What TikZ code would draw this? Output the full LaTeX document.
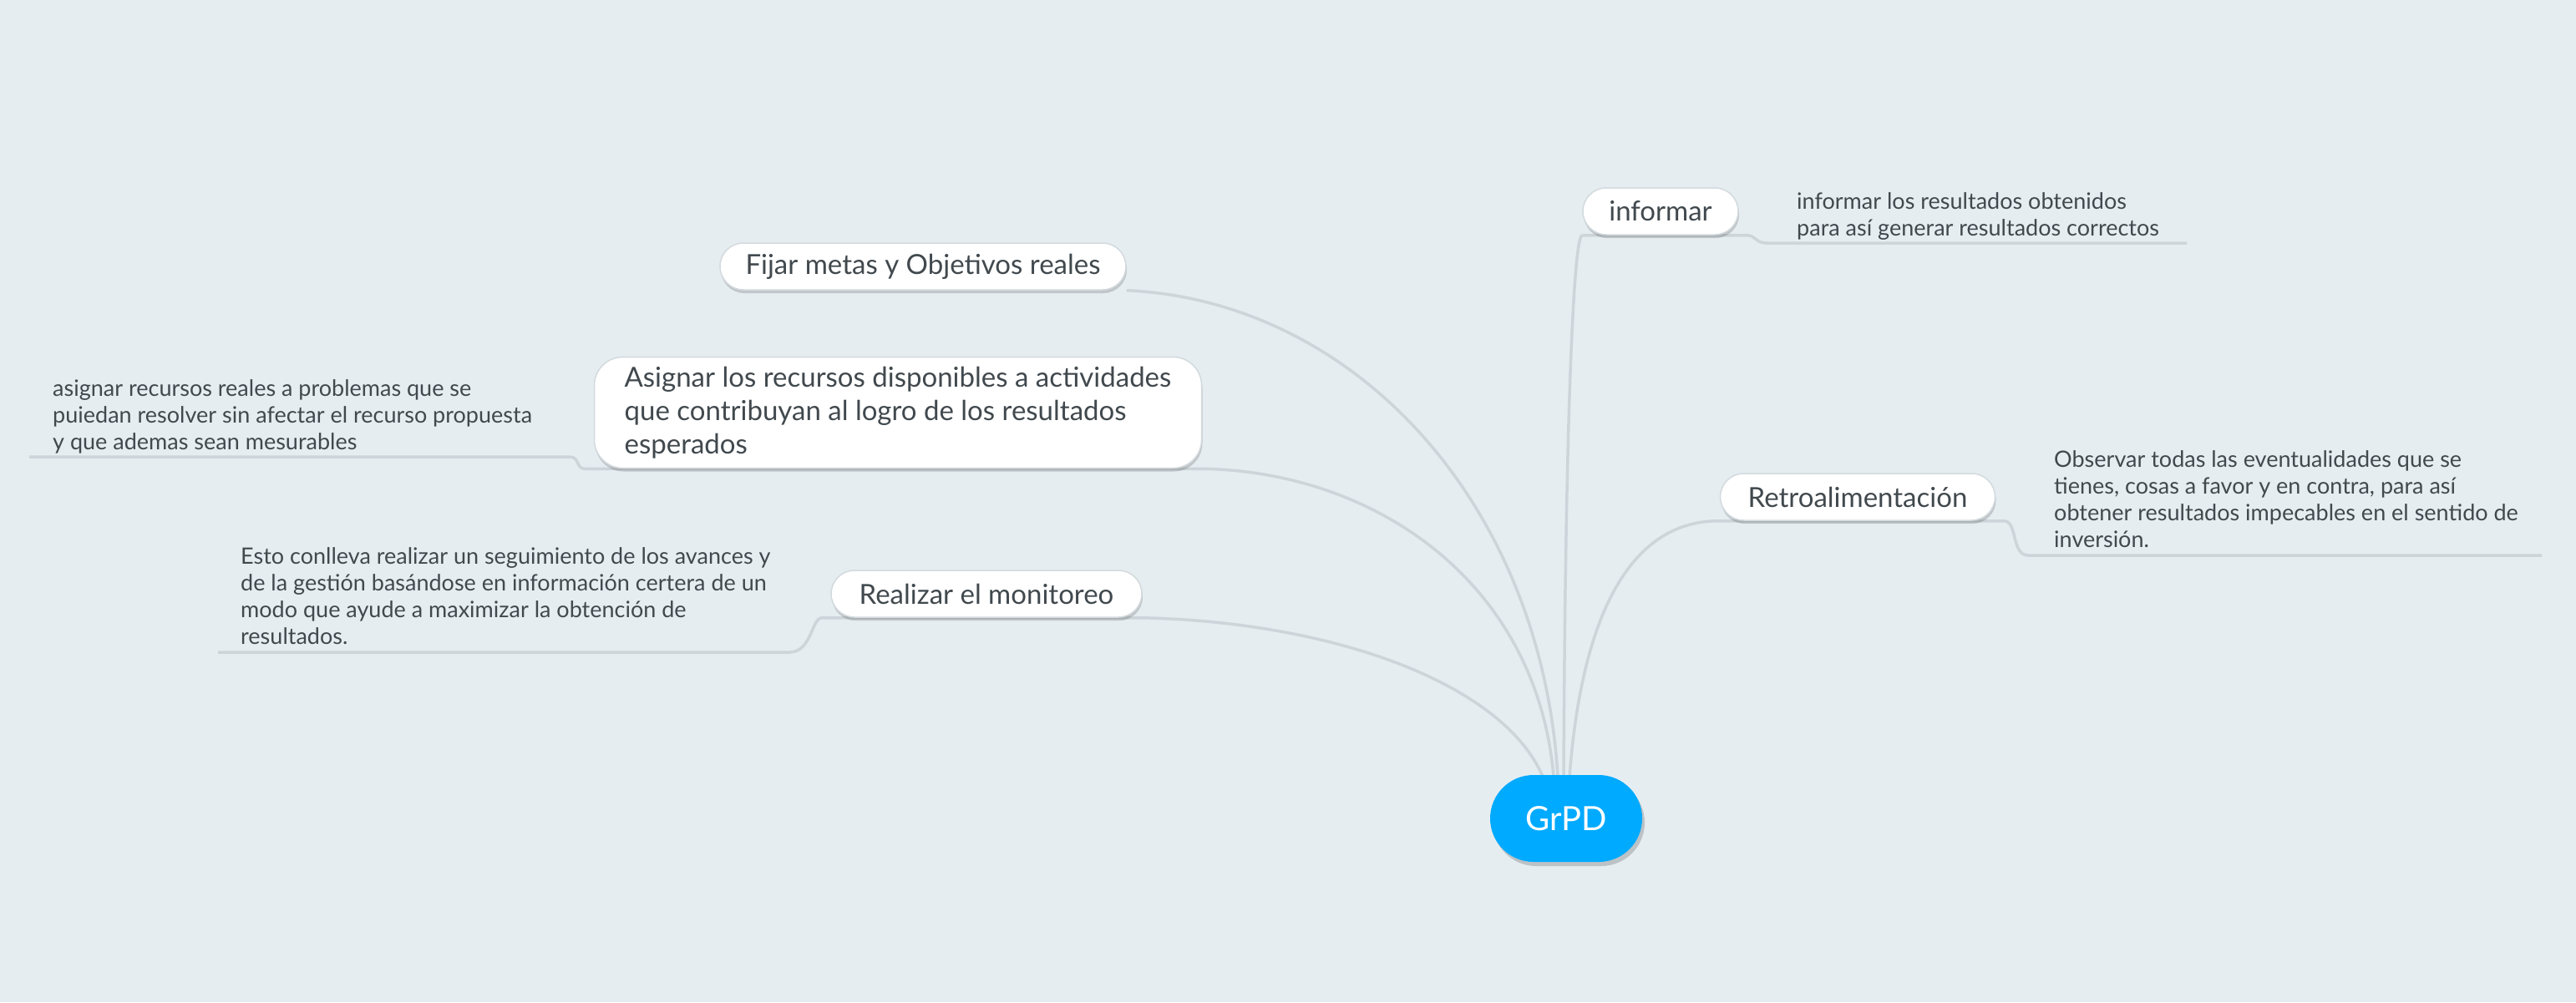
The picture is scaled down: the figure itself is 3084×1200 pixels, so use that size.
\documentclass[tikz,border=0pt]{standalone}
\usepackage{fontspec}
\setmainfont{Lato}
\usetikzlibrary{shadows,backgrounds,calc}
\definecolor{bg}{HTML}{E6EDF1}
\definecolor{conn}{HTML}{CDD5DA}
\definecolor{txt}{HTML}{41494E}
\definecolor{rootc}{HTML}{00AAFF}
\definecolor{nodeb}{HTML}{D3DADE}
\begin{document}
\begin{tikzpicture}[x=1pt,y=-1pt,
  topic/.style={draw=nodeb, line width=1.5pt, fill=white, rounded corners=28pt,
    inner sep=0pt, minimum height=56pt, text=txt, font=\fontsize{33}{40}\selectfont,
    drop shadow={shadow xshift=1pt, shadow yshift=-4pt, opacity=0.16, fill=black}},
  rootnode/.style={fill=rootc, draw=none, rounded corners=52pt, inner sep=0pt,
    minimum width=182pt, minimum height=104pt, text=white, font=\fontsize{40}{48}\selectfont,
    drop shadow={shadow xshift=3pt, shadow yshift=-5pt, opacity=0.18, fill=black}},
  detail/.style={inner sep=0pt, text=txt, font=\fontsize{27}{32}\selectfont, align=left, anchor=base west},
  link/.style={draw=conn, line width=3.5pt}]
\useasboundingbox (0,0) rectangle (3084,1200);

\node[rootnode] (root) at (1875,980) {GrPD};
\node[topic, minimum width=486pt] (fij) at (1105,319) {Fijar metas y Objetivos reales};
\node[topic, rounded corners=34pt, minimum width=727pt, minimum height=133pt, align=left] (asi) at (1075,494) {Asignar los recursos disponibles a actividades\\que contribuyan al logro de los resultados\\esperados};
\node[topic, minimum width=372pt] (rea) at (1181,711) {Realizar el monitoreo};
\node[topic, minimum width=186pt] (inf) at (1988,253) {informar};
\node[topic, minimum width=329pt] (ret) at (2224,595) {Retroalimentación};

\node[detail] (dinf) at (2151,282) {informar los resultados obtenidos\\para así generar resultados correctos};
\node[detail] (dret) at (2459,655) {Observar todas las eventualidades que se\\tienes, cosas a favor y en contra, para así\\obtener resultados impecables en el sentido de\\inversión.};
\node[detail] (dasi) at (63,538) {asignar recursos reales a problemas que se\\puiedan resolver sin afectar el recurso propuesta\\y que ademas sean mesurables};
\node[detail] (drea) at (288,771) {Esto conlleva realizar un seguimiento de los avances y\\de la gestión basándose en información certera de un\\modo que ayude a maximizar la obtención de\\resultados.};

\coordinate (rR) at ($(root.north)+(-28,2)$);
\coordinate (rA) at ($(root.north)+(-15,2)$);
\coordinate (rF) at ($(root.north)+(-10,2)$);
\coordinate (rI) at ($(root.north)+(-3,2)$);
\coordinate (rT) at ($(root.north)+(4,2)$);
\coordinate (uinfA) at (2115,291);
\coordinate (uinfB) at (2618,291);
\coordinate (uretA) at (2428,665);
\coordinate (uretB) at (3043,665);
\coordinate (uasiA) at (682,547);
\coordinate (uasiB) at (35,547);
\coordinate (ureaA) at (945,781);
\coordinate (ureaB) at (261,781);

\begin{pgfonlayer}{background}
\fill[bg] (0,0) rectangle (3084,1200);
\draw[link] (fij.south east) .. controls (1620,360) and (1845,600) .. (rF);
\draw[link] (asi.south east) .. controls (1650,565) and (1840,700) .. (rA);
\draw[link] (rea.south east) .. controls (1600,745) and (1800,820) .. (rR);
\draw[link] (rI) .. controls (1874,500) and (1884,281) .. (inf.south west);
\draw[link] (rT) .. controls (1895,720) and (1960,623) .. (ret.south west);
\draw[link] (inf.south west) -- (inf.south east) -- ++(9,0) .. controls +(12,0) and +(-14,0) .. (uinfA) -- (uinfB);
\draw[link] (ret.south west) -- (ret.south east) -- ++(10,0) .. controls +(16,0) and +(-20,0) .. (uretA) -- (uretB);
\draw[link] (asi.south east) -- (asi.south west) -- ++(-11,0) .. controls +(-10,0) and +(12,0) .. (uasiA) -- (uasiB);
\draw[link] (rea.south east) -- (rea.south west) -- ++(-10,0) .. controls +(-13,0) and +(27,0) .. (ureaA) -- (ureaB);
\end{pgfonlayer}
\end{tikzpicture}
\end{document}
